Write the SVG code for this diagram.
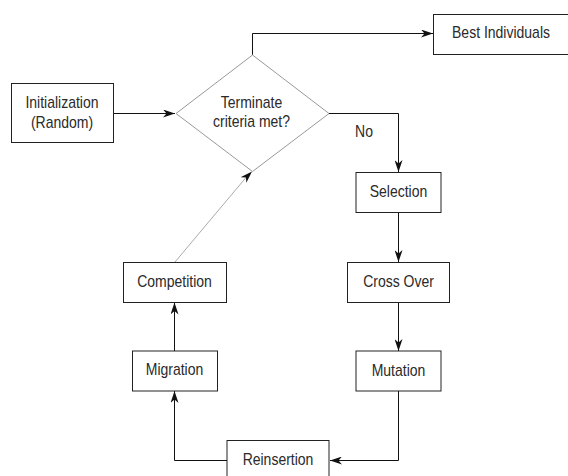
<svg xmlns="http://www.w3.org/2000/svg" width="568" height="476" viewBox="0 0 568 476">
<style>
.box{fill:#fff;stroke:#222;stroke-width:1}
.dia{fill:#fff;stroke:#999;stroke-width:1}
.lbl{font-family:"Liberation Sans",Arial,sans-serif;font-size:16px;fill:#2a2a2a;text-anchor:middle}
.ln{fill:none;stroke:#111;stroke-width:1}
.gl{fill:none;stroke:#aaa;stroke-width:1}
</style>
<defs>
<marker id="ah" viewBox="0 0 12 8" markerWidth="12" markerHeight="8" refX="12" refY="4" orient="auto" markerUnits="userSpaceOnUse">
<path d="M0,0 L12,4 L0,8 L3.5,4 z" fill="#111"/>
</marker>
</defs>
<rect width="568" height="476" fill="#fff"/>
<g id="connectors">
<path class="ln" d="M114,113.5 H175" marker-end="url(#ah)"/>
<path class="ln" d="M252.5,55 V33.5 H433" marker-end="url(#ah)"/>
<path class="ln" d="M329,113.5 H398.5 V172" marker-end="url(#ah)"/>
<path class="ln" d="M398.5,212.5 V262" marker-end="url(#ah)"/>
<path class="ln" d="M398.5,302.5 V351" marker-end="url(#ah)"/>
<path class="ln" d="M398.5,391 V460.5 H330" marker-end="url(#ah)"/>
<path class="ln" d="M227,460.5 H174.5 V391" marker-end="url(#ah)"/>
<path class="ln" d="M174.5,351 V302.5" marker-end="url(#ah)"/>
<path class="gl" d="M175,262 L246,177.5"/>
<path class="ln" d="M246,177.5 L252,171.5" stroke-opacity="0" marker-end="url(#ah)"/>
</g>
<g id="init">
<rect class="box" x="11.5" y="83.5" width="102" height="59"/>
<text class="lbl" transform="translate(62,108.3) scale(0.875,1)">Initialization</text>
<text class="lbl" transform="translate(62,128.3) scale(0.875,1)">(Random)</text>
</g>
<g id="decision">
<polygon class="dia" points="252.5,55 329,113.5 252.5,171.5 176,113.5"/>
<text class="lbl" transform="translate(251.5,108) scale(0.875,1)">Terminate</text>
<text class="lbl" transform="translate(251.5,127) scale(0.875,1)">criteria met?</text>
</g>
<g id="best">
<rect class="box" x="433.5" y="14.5" width="140" height="40"/>
<text class="lbl" transform="translate(501,37.7) scale(0.875,1)">Best Individuals</text>
</g>
<g id="no-label">
<text class="lbl" transform="translate(364,137) scale(0.875,1)">No</text>
</g>
<g id="selection">
<rect class="box" x="356" y="172.5" width="85" height="40"/>
<text class="lbl" transform="translate(398.5,197) scale(0.875,1)">Selection</text>
</g>
<g id="crossover">
<rect class="box" x="347.5" y="262.5" width="102" height="40"/>
<text class="lbl" transform="translate(398.5,286.7) scale(0.875,1)">Cross Over</text>
</g>
<g id="mutation">
<rect class="box" x="356" y="351" width="85" height="40"/>
<text class="lbl" transform="translate(398.5,375.7) scale(0.875,1)">Mutation</text>
</g>
<g id="reinsertion">
<rect class="box" x="227" y="440.5" width="102" height="45"/>
<text class="lbl" transform="translate(278,465) scale(0.875,1)">Reinsertion</text>
</g>
<g id="migration">
<rect class="box" x="132.5" y="351" width="85" height="40"/>
<text class="lbl" transform="translate(174.5,375.3) scale(0.875,1)">Migration</text>
</g>
<g id="competition">
<rect class="box" x="123.5" y="262.5" width="103" height="40"/>
<text class="lbl" transform="translate(174.5,286.7) scale(0.875,1)">Competition</text>
</g>
</svg>
